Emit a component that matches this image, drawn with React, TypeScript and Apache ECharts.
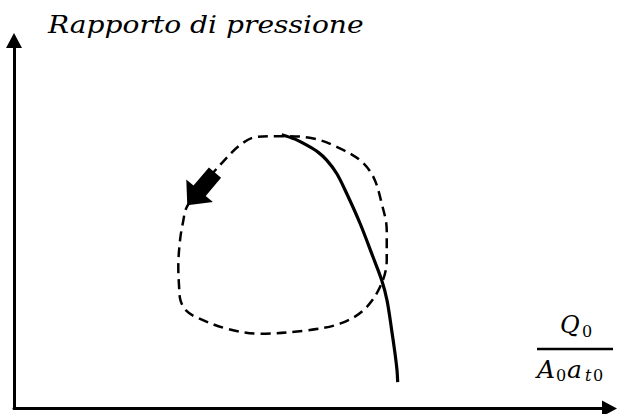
import React, { useEffect, useRef } from "react";
import * as echarts from "echarts";

// Steady-state characteristic (solid), in axis units: x = flow, y = pressure ratio
const characteristic: [number, number][] = [
  [44.95, 74.4], [47.19, 73.2], [49.15, 71.56], [51.05, 69.66], [52.51, 67.48],
  [54.19, 63.86], [55.87, 58.42], [58.1, 50.34], [60.29, 41.17], [61.75, 34.83],
  [62.64, 29.39], [63.43, 21.22], [63.98, 14.97], [64.32, 10.34], [64.43, 7.16],
];

// Surge cycle (dashed), closed loop starting and ending under the direction arrow
const surgeLoop: [number, number][] = [
  [31.23, 59.86], [29.0, 54.69], [28.38, 50.61], [27.88, 45.71], [27.59, 38.45],
  [27.71, 33.47], [27.96, 29.39], [28.88, 26.67], [30.68, 24.76], [35.72, 21.69],
  [41.31, 20.33], [49.15, 21.22], [54.74, 23.05], [58.66, 26.67], [61.46, 33.01],
  [62.59, 40.27], [62.59, 48.44], [61.75, 55.7], [60.34, 62.94], [58.1, 67.48],
  [54.19, 71.1], [50.26, 73.39], [45.22, 74.01], [40.76, 73.82], [37.95, 71.56],
  [34.31, 65.66], [31.23, 59.86],
];

// Direction of travel along the cycle: tail -> tip
const cycleArrow: [number, number, number, number][] = [[33.75, 64.08, 29.1, 55.24]];

const xRange = [0, 100];
const yRange = [0, 100];

const titleText = "Rapporto di pressione";

const serif = "DejaVu Serif";

function mathText(
  text: string,
  x: number,
  baseline: number,
  size: number,
  italic: boolean,
  scaleX = 1
) {
  return {
    type: "text",
    x,
    y: baseline - 0.346 * size,
    scaleX,
    silent: true,
    style: {
      text,
      fill: "#000",
      font: `${italic ? "italic " : ""}${size}px "${serif}"`,
      align: "left",
      verticalAlign: "middle",
    },
  };
}

export default function App() {
  const ref = useRef<HTMLDivElement>(null);

  useEffect(() => {
    if (!ref.current) return;
    const chart = echarts.init(ref.current, null, { renderer: "svg" });

    const axisCommon = {
      type: "value" as const,
      axisLine: {
        show: true,
        onZero: false,
        symbol: ["none", "triangle"],
        symbolSize: [16, 15],
        lineStyle: { color: "#000", width: 3 },
      },
      axisTick: { show: false },
      axisLabel: { show: false },
      splitLine: { show: false },
    };

    chart.setOption({
      animation: false,
      backgroundColor: "#fff",
      grid: { left: 14, right: 7.5, top: 40.5, bottom: 5.5, containLabel: false },
      xAxis: { ...axisCommon, min: xRange[0], max: xRange[1] },
      yAxis: { ...axisCommon, min: yRange[0], max: yRange[1] },
      series: [
        {
          type: "line",
          data: surgeLoop,
          smooth: 0.35,
          symbol: "none",
          lineStyle: { color: "#000", width: 2.5, type: [10, 6] },
          z: 2,
        },
        {
          type: "line",
          data: characteristic,
          smooth: 0.35,
          symbol: "none",
          lineStyle: { color: "#000", width: 3.2 },
          z: 3,
        },
        {
          type: "custom",
          data: cycleArrow,
          clip: false,
          z: 4,
          renderItem: (_params: any, api: any) => {
            const tail = api.coord([api.value(0), api.value(1)]);
            const tip = api.coord([api.value(2), api.value(3)]);
            const dx = tip[0] - tail[0];
            const dy = tip[1] - tail[1];
            const len = Math.hypot(dx, dy);
            const ux = dx / len;
            const uy = dy / len;
            const nx = -uy;
            const ny = ux;
            const headLen = 19;
            const headHalf = 17.5;
            const shaftHalf = 8;
            const bx = tip[0] - ux * headLen;
            const by = tip[1] - uy * headLen;
            const pts = [
              [tail[0] + nx * shaftHalf, tail[1] + ny * shaftHalf],
              [bx + nx * shaftHalf, by + ny * shaftHalf],
              [bx + nx * headHalf, by + ny * headHalf],
              [tip[0], tip[1]],
              [bx - nx * headHalf, by - ny * headHalf],
              [bx - nx * shaftHalf, by - ny * shaftHalf],
              [tail[0] - nx * shaftHalf, tail[1] - ny * shaftHalf],
            ];
            return { type: "polygon", shape: { points: pts }, style: { fill: "#000" } };
          },
        },
      ],
      graphic: [
        mathText(titleText, 48, 33, 25, true, 1.125),
        // Q0 / (A0 a_t0)
        mathText("Q", 560, 333, 24, true),
        mathText("0", 582, 337, 16, false),
        {
          type: "line",
          silent: true,
          shape: { x1: 537, y1: 349, x2: 613, y2: 349 },
          style: { stroke: "#000", lineWidth: 2.5 },
        },
        mathText("A", 537, 378, 25, true),
        mathText("0", 556, 381, 16, false),
        mathText("a", 567, 378, 25, true),
        mathText("t", 585, 381, 16, true),
        mathText("0", 593, 381, 16, false),
      ],
    });

    return () => chart.dispose();
  }, []);

  return <div ref={ref} style={{ width: 617, height: 414, position: "absolute", left: 0, top: 0 }} />;
}
